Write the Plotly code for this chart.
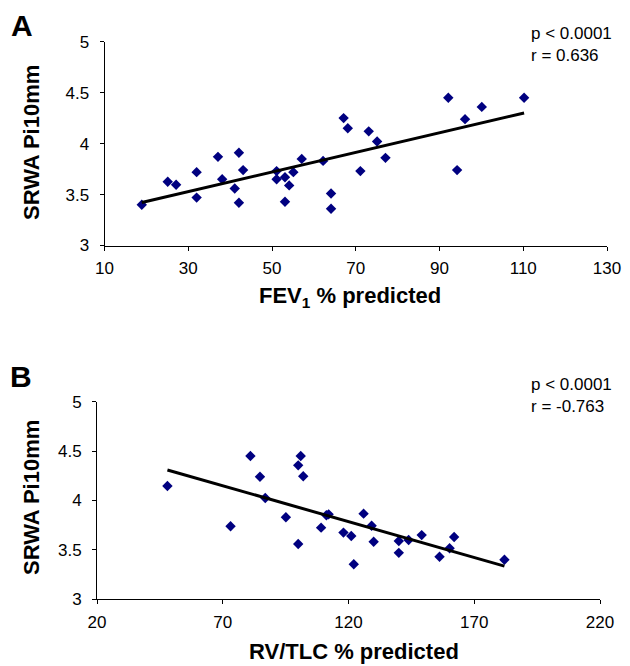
import numpy as np
import plotly.graph_objects as go

# Panel A: FEV1 % predicted vs SRWA Pi10mm
fev1_pct = [18.9, 25.1, 27.1, 32.0, 32.0, 37.1, 38.1, 41.1, 42.1, 42.1, 43.1,
            51.1, 51.1, 53.1, 53.1, 54.1, 55.1, 57.1, 62.2, 64.1, 64.1, 67.1,
            68.1, 71.1, 73.1, 75.1, 77.1, 92.1, 94.2, 96.1, 100.1, 110.2]
srwa_a = [3.40, 3.625, 3.596, 3.72, 3.47, 3.87, 3.65, 3.56, 3.91, 3.42, 3.74,
          3.73, 3.65, 3.67, 3.43, 3.59, 3.72, 3.85, 3.83, 3.51, 3.36, 4.25,
          4.15, 3.73, 4.12, 4.02, 3.86, 4.45, 3.74, 4.24, 4.36, 4.45]

# Panel B: RV/TLC % predicted vs SRWA Pi10mm
rvtlc_pct = [48.0, 73.1, 81.0, 84.8, 86.9, 95.1, 100.0, 100.0, 101.0, 102.0,
             109.1, 111.2, 112.1, 118.0, 121.1, 122.1, 126.0, 129.2, 130.0,
             140.0, 140.0, 143.9, 149.1, 156.2, 160.2, 162.0, 182.0]
srwa_b = [4.147, 3.74, 4.45, 4.24, 4.025, 3.83, 4.356, 3.56, 4.45, 4.245,
          3.725, 3.85, 3.86, 3.675, 3.64, 3.354, 3.867, 3.745, 3.583,
          3.59, 3.47, 3.60, 3.65, 3.43, 3.516, 3.63, 3.40]

stats_a = ["p < 0.0001", "r = 0.636"]
stats_b = ["p < 0.0001", "r = -0.763"]

xa_ticks = [10, 30, 50, 70, 90, 110, 130]
xb_ticks = [20, 70, 120, 170, 220]
y_ticks = [3, 3.5, 4, 4.5, 5]

# the page body has an 8px margin; lay out in window pixels
OFF = 8
W, H = 630 - OFF, 666 - OFF
def px(x):
    return (x - OFF) / W
def py(y):
    return 1 - (y - OFF) / H

fig = go.Figure()

def add_panel(xs, ys, xaxis, yaxis):
    fig.add_trace(go.Scatter(x=xs, y=ys, mode="markers", xaxis=xaxis, yaxis=yaxis,
                             marker=dict(symbol="diamond", size=8, color="#000080"),
                             showlegend=False))
    k, b = np.polyfit(xs, ys, 1)
    lx = np.array([min(xs), max(xs)])
    fig.add_trace(go.Scatter(x=lx, y=k * lx + b, mode="lines", xaxis=xaxis, yaxis=yaxis,
                             line=dict(color="black", width=3), showlegend=False))

add_panel(fev1_pct, srwa_a, "x", "y")
add_panel(rvtlc_pct, srwa_b, "x2", "y2")

FONT = "Liberation Sans, Arial"
tickfont = dict(family=FONT, size=17, color="black")
titlefont = dict(family=FONT, size=22, color="black", weight="bold")

axis_common = dict(showgrid=False, zeroline=False, showline=True, linecolor="black",
                   linewidth=1, ticks="outside", ticklen=4, tickcolor="black",
                   tickfont=tickfont, mirror=False, automargin=False)

fig.update_layout(
    width=W, height=H, margin=dict(l=0, r=0, t=0, b=0),
    paper_bgcolor="white", plot_bgcolor="white",
    xaxis=dict(domain=[px(104.5), px(607)], range=[10, 130], tickvals=xa_ticks,
               anchor="y", ticklabelstandoff=3, **axis_common),
    yaxis=dict(domain=[py(245.5), py(41.7)], range=[3, 5], tickvals=y_ticks,
               anchor="x", ticklabelstandoff=7, **axis_common),
    xaxis2=dict(domain=[px(97), px(600)], range=[20, 220], tickvals=xb_ticks,
                anchor="y2", ticklabelstandoff=3, **axis_common),
    yaxis2=dict(domain=[py(599.3), py(401.7)], range=[3, 5], tickvals=y_ticks,
                anchor="x2", ticklabelstandoff=7, **axis_common),
)

def text(t, x, y, font, xanchor="center", yanchor="middle", angle=0, align="left"):
    fig.add_annotation(text=t, xref="paper", yref="paper", x=px(x), y=py(y),
                       xanchor=xanchor, yanchor=yanchor, showarrow=False,
                       textangle=angle, font=font, align=align)

# axis titles
text("FEV<sub>1</sub> % predicted", 350, 297, titlefont)
text("RV/TLC % predicted", 354, 651, titlefont)
text("SRWA Pi10mm", 31, 143, titlefont, angle=-90)
text("SRWA Pi10mm", 31, 498, titlefont, angle=-90)

annfont = dict(family=FONT, size=17, color="black")
text("<br>".join(stats_a), 529, 45, annfont, xanchor="left")
text("<br>".join(stats_b), 529, 395, annfont, xanchor="left")

letterfont = dict(family=FONT, size=30, color="black", weight="bold")
text("A", 22, 25, letterfont)
text("B", 21, 376, letterfont)

fig.write_html("out.html")
